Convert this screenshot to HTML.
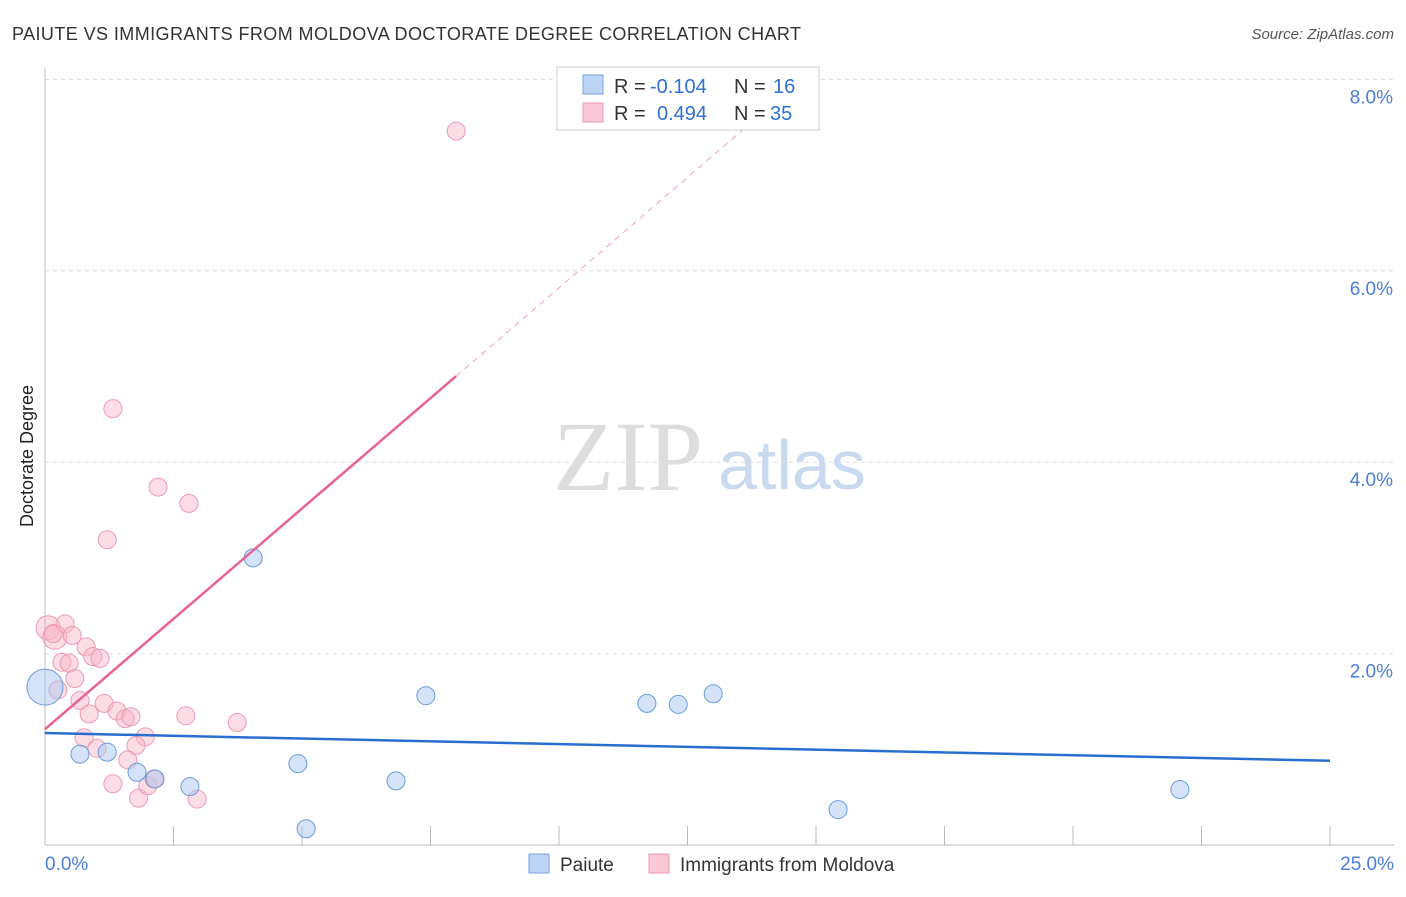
<!DOCTYPE html>
<html><head><meta charset="utf-8"><style>
body{margin:0;background:#fff;font-family:"Liberation Sans",sans-serif;}
</style></head><body>
<svg id="c" width="1406" height="892" font-family="Liberation Sans, sans-serif">
<text x="12" y="40" font-size="18" fill="#333" textLength="789">PAIUTE VS IMMIGRANTS FROM MOLDOVA DOCTORATE DEGREE CORRELATION CHART</text>
<text x="1394" y="39" font-size="15" fill="#555" font-style="italic" text-anchor="end">Source: ZipAtlas.com</text>
<text x="33" y="456" font-size="18" fill="#222" transform="rotate(-90 33 456)" text-anchor="middle">Doctorate Degree</text>
<text x="553" y="490" font-size="100" fill="#ddd" style="font-family:'Liberation Serif',serif">ZIP</text>
<text x="718" y="489" font-size="70" fill="#c9d9ef">atlas</text>
<g id="grid"></g><g id="pts"></g><g id="lines"></g>
<g font-size="20">
<rect x="557" y="67" width="262" height="63" fill="#fff" stroke="#ccc"/>
<rect x="583" y="75" width="20" height="19" fill="#bcd4f6" stroke="#7aa2dd"/>
<rect x="583" y="103" width="20" height="19" fill="#fac8d6" stroke="#e89ab0"/>
<text x="614" y="93" fill="#333">R =</text><text x="650" y="93" fill="#2f6fd6">-0.104</text>
<text x="734" y="93" fill="#333">N =</text><text x="773" y="93" fill="#2f6fd6">16</text>
<text x="614" y="120" fill="#333">R =</text><text x="657" y="120" fill="#2f6fd6">0.494</text>
<text x="734" y="120" fill="#333">N =</text><text x="770" y="120" fill="#2f6fd6">35</text>
</g>
<g>
<rect x="529" y="854" width="20" height="19" fill="#bcd4f6" stroke="#7aa2dd"/>
<text x="560" y="871" font-size="19" fill="#333">Paiute</text>
<rect x="649" y="854" width="20" height="19" fill="#fac8d6" stroke="#e89ab0"/>
<text x="680" y="871" font-size="19" fill="#333">Immigrants from Moldova</text>
</g>
</svg>
<script>
const yTicks=[2,4,6,8];
const xTickLabels=["0.0%","25.0%"];
const blueX=[0,0.68,1.21,1.79,2.14,2.82,4.05,4.92,5.08,6.83,7.41,11.71,12.32,13.0,15.43,22.08];
const blueY=[1.65,0.95,0.97,0.76,0.69,0.61,3.0,0.85,0.17,0.67,1.56,1.48,1.47,1.58,0.37,0.58];
const pinkX=[0.06,0.19,0.16,0.39,0.53,0.8,0.93,0.33,0.47,1.07,0.58,0.25,0.68,0.86,1.15,1.4,1.56,1.67,0.76,1.01,1.95,1.77,1.61,1.32,1.82,2.0,2.12,2.96,2.74,3.74,1.32,2.2,2.8,1.21,8.0];
const pinkY=[2.27,2.17,2.21,2.31,2.19,2.07,1.97,1.91,1.9,1.95,1.74,1.62,1.51,1.37,1.48,1.4,1.32,1.34,1.12,1.01,1.13,1.04,0.89,0.64,0.49,0.62,0.69,0.48,1.35,1.28,4.56,3.74,3.57,3.19,7.46];
const blueLine=[1.17,0.88];
const pinkLine=[1.21,4.9];
const ns="http://www.w3.org/2000/svg";
const X=v=>45+v*51.4, Y=v=>845-v*95.7;
function mk(t,a,p){const e=document.createElementNS(ns,t);for(const k in a)e.setAttribute(k,a[k]);p.appendChild(e);return e;}
const g=document.getElementById('grid');
yTicks.forEach(v=>{
 const l=mk('line',{x1:45,x2:1394,y1:Y(v),y2:Y(v),stroke:'#ddd','stroke-dasharray':'4 4'},g);
 
 
 const t=mk('text',{x:1393,y:Y(v)+24,'font-size':19,fill:'#4a7fd6','text-anchor':'end'},g);t.textContent=v.toFixed(1)+'%';
 
 
});
mk('line',{x1:45,x2:45,y1:68,y2:845,stroke:'#bbb'},g);
mk('line',{x1:45,x2:1394,y1:845,y2:845,stroke:'#bbb'},g);
for(let i=1;i<=10;i++){const tk=mk('line',{x1:X(i*2.5),x2:X(i*2.5),y1:826,y2:845,stroke:'#bbb'},g);
 
 }
const t0=mk('text',{x:45,y:870,'font-size':19,fill:'#4a7fd6'},g);t0.textContent=xTickLabels[0];


const t1=mk('text',{x:1394,y:870,'font-size':19,fill:'#4a7fd6','text-anchor':'end'},g);t1.textContent=xTickLabels[1];


const p=document.getElementById('pts');
pinkX.forEach((x,i)=>{const c=mk('circle',{cx:X(x),cy:Y(pinkY[i]),r:i<2?12:9,fill:'rgba(248,180,200,0.45)',stroke:'#ec9ab2','stroke-width':1},p);
 
 });
blueX.forEach((x,i)=>{const c=mk('circle',{cx:X(x),cy:Y(blueY[i]),r:i==0?18:9,fill:'rgba(170,200,240,0.5)',stroke:'#6a9be0','stroke-width':1},p);
 
 });
const L=document.getElementById('lines');
const bl=mk('line',{x1:X(0),y1:Y(blueLine[0]),x2:X(25),y2:Y(blueLine[1]),stroke:'#2a6dd0','stroke-width':2.5},L);


const slope=(pinkLine[1]-pinkLine[0])/8;
const pl=mk('line',{x1:X(0),y1:Y(pinkLine[0]),x2:X(8),y2:Y(pinkLine[1]),stroke:'#e8648e','stroke-width':2.5},L);


const pd=mk('line',{x1:X(8),y1:Y(pinkLine[1]),x2:X(13.9),y2:Y(pinkLine[0]+slope*13.9),stroke:'#f0a0b8','stroke-width':1,'stroke-dasharray':'6 5'},L);


</script>
</body></html>
